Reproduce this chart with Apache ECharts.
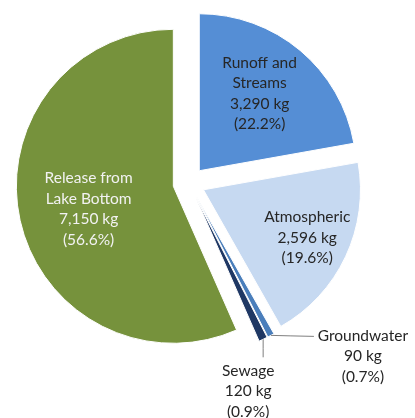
<!DOCTYPE html>
<html>
<head>
<meta charset="utf-8">
<script src="https://cdn.jsdelivr.net/npm/echarts@6/dist/echarts.min.js"></script>
<style>
  html, body { margin: 0; padding: 0; background: #ffffff; }
  #chart { width: 415px; height: 418px; }
</style>
</head>
<body>
<div id="chart"></div>
<script>
// Data
var categories = ['Runoff and\nStreams', 'Atmospheric', 'Groundwater', 'Sewage', 'Release from\nLake Bottom'];
var percentShares = [22.2, 19.6, 0.7, 0.9, 56.6];
var kgValues = ['3,290', '2,596', '90', '120', '7,150'];

// Styling (not data)
var sliceColors = ['#558ED5', '#C6D9F1', '#4A7EBB', '#1F3864', '#76923C'];
var labelColors = ['#262626', '#262626', '#262626', '#262626', '#F2F2F2'];
var insideShift = [[8, -15], [30, 13], null, null, [-5, 6]];
var outsideIdx = [2, 3];

function labelText(i) {
  return categories[i] + '\n' + kgValues[i] + ' kg\n(' + percentShares[i].toFixed(1) + '%)';
}

var chart = echarts.init(document.getElementById('chart'), null, { renderer: 'canvas' });

// Main (exploded) pie, with inside labels
var mainData = categories.map(function (name, i) {
  var inside = !!insideShift[i];
  return {
    name: name,
    value: percentShares[i],
    selected: true,
    itemStyle: { color: sliceColors[i] },
    label: {
      show: inside,
      position: 'inside',
      color: labelColors[i],
      formatter: labelText(i)
    },
    labelLine: { show: false }
  };
});

// Transparent twin pie (radius = exploded tip) that carries the outside callouts
var calloutData = categories.map(function (name, i) {
  var outside = outsideIdx.indexOf(i) >= 0;
  return {
    name: name,
    value: percentShares[i],
    label: {
      show: outside,
      position: 'outside',
      color: labelColors[i],
      formatter: labelText(i)
    },
    labelLine: {
      show: outside,
      length: 8,
      length2: 20,
      lineStyle: { color: '#7F7F7F', width: 1 }
    }
  };
});

var baseLabel = {
  fontFamily: 'Lato',
  fontSize: 15.5,
  lineHeight: 20.5,
  align: 'center'
};

var option = {
  animation: false,
  backgroundColor: '#ffffff',
  series: [{
    type: 'pie',
    center: [189, 183],
    radius: 157,
    startAngle: 90,
    clockwise: true,
    selectedMode: 'multiple',
    selectedOffset: 16,
    avoidLabelOverlap: false,
    emphasis: { disabled: true },
    itemStyle: { borderColor: '#ffffff', borderWidth: 1 },
    label: baseLabel,
    labelLayout: function (p) {
      var s = insideShift[p.dataIndex];
      return s ? { dx: s[0], dy: s[1] } : {};
    },
    data: mainData
  }, {
    type: 'pie',
    center: [189, 183],
    radius: 173,
    startAngle: 90,
    clockwise: true,
    silent: true,
    z: 3,
    avoidLabelOverlap: false,
    emphasis: { disabled: true },
    itemStyle: { color: 'rgba(0,0,0,0)', borderWidth: 0 },
    label: baseLabel,
    labelLayout: function (p) {
      var pts = p.labelLinePoints;
      if (!pts) { return {}; }
      var s = pts[0];
      if (p.dataIndex === 2) {
        return {
          x: s[0] + 92, y: s[1] - 10,
          align: 'center', verticalAlign: 'top',
          labelLinePoints: [[s[0], s[1]], [s[0] + 20, s[1] + 0.5], [s[0] + 43, s[1] + 1]]
        };
      }
      if (p.dataIndex === 3) {
        return {
          x: s[0] - 15, y: s[1] + 21,
          align: 'center', verticalAlign: 'top',
          labelLinePoints: [[s[0], s[1]], [s[0], s[1] + 9], [s[0], s[1] + 18]]
        };
      }
      return {};
    },
    data: calloutData
  }]
};

chart.setOption(option);
</script>
</body>
</html>
